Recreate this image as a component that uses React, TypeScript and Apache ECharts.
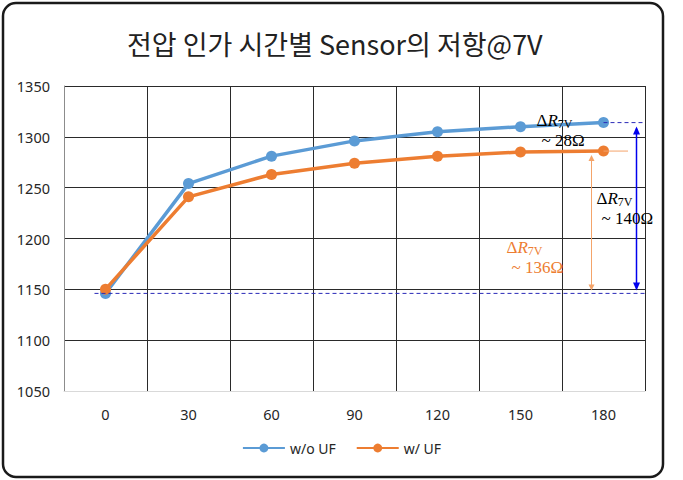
import React, { useEffect, useRef } from "react";
import * as echarts from "echarts";

const categories = ["0", "30", "60", "90", "120", "150", "180"];
const woUF = [1146, 1254, 1281, 1296, 1305, 1310, 1314];
const wUF = [1150, 1241, 1263, 1274, 1281, 1285, 1286];
const yTicks = { min: 1050, max: 1350, interval: 50 };
const titleText = "전압 인가 시간별 Sensor의 저항@7V";
const seriesNames = ["w/o UF", "w/ UF"];
const notes = ["~ 28Ω", "~ 140Ω", "~ 136Ω"];

export default function App() {
  const ref = useRef<HTMLDivElement>(null);
  useEffect(() => {
    if (!ref.current) return;
    const chart = echarts.init(ref.current, undefined, { renderer: "svg" });
    const labelFont = "'Noto Sans', 'Open Sans', sans-serif";
    chart.setOption({
      animation: false,
      backgroundColor: "#ffffff",
      title: {
        text: titleText,
        left: 122,
        top: 25,
        textStyle: {
          fontFamily: "'Noto Sans CJK KR', sans-serif",
          fontSize: 27,
          fontWeight: "normal",
          color: "#222",
        },
      },
      legend: {
        bottom: 20,
        left: "center",
        itemWidth: 42,
        itemHeight: 11,
        itemGap: 20,
        textStyle: { fontFamily: labelFont, fontSize: 14, color: "#262626" },
        data: seriesNames,
      },
      grid: { left: 64, right: 38, top: 86, bottom: 89 },
      xAxis: {
        type: "category",
        data: categories,
        boundaryGap: true,
        axisLine: { show: true, lineStyle: { color: "#d9d9d9", width: 1 } },
        axisTick: { show: false },
        axisLabel: { fontFamily: labelFont, fontSize: 14.5, color: "#262626", margin: 15 },
        splitLine: { show: true, interval: 0, lineStyle: { color: "#2a2a2a", width: 1 } },
      },
      yAxis: {
        type: "value",
        min: yTicks.min,
        max: yTicks.max,
        interval: yTicks.interval,
        axisLine: { show: true, lineStyle: { color: "#8c8c8c", width: 1 } },
        axisTick: { show: false },
        axisLabel: {
          fontFamily: labelFont,
          fontSize: 14.5,
          color: "#262626",
          margin: 14,
          formatter: (v: number) => String(v),
        },
        splitLine: { show: true, lineStyle: { color: "#2a2a2a", width: 1 } },
      },
      series: [
        {
          name: seriesNames[0],
          type: "line",
          data: woUF,
          symbol: "circle",
          symbolSize: 11,
          itemStyle: { color: "#5B9BD5" },
          lineStyle: { color: "#5B9BD5", width: 3.5 },
          z: 3,
        },
        {
          name: seriesNames[1],
          type: "line",
          data: wUF,
          symbol: "circle",
          symbolSize: 11,
          itemStyle: { color: "#ED7D31" },
          lineStyle: { color: "#ED7D31", width: 3.5 },
          z: 4,
        },
      ],
    });

    const px = (i: number, v: number) =>
      chart.convertToPixel({ xAxisIndex: 0, yAxisIndex: 0 }, [i, v]) as number[];
    const last = categories.length - 1;
    const yBase = px(0, woUF[0])[1];
    const xFirst = px(0, woUF[0])[0];
    const pBlueEnd = px(last, woUF[last]);
    const pOrangeEnd = px(last, wUF[last]);
    const gridRight = 683 - 38;
    const blueX = pBlueEnd[0] + 33;
    const orangeX = pBlueEnd[0] - 12;

    const serif = "'Liberation Serif', serif";
    const rich = (color: string) => ({
      d: { fontFamily: serif, fontSize: 17, fill: color },
      r: { fontFamily: serif, fontSize: 17, fontStyle: "italic", fill: color },
      s: { fontFamily: serif, fontSize: 12, fill: color, verticalAlign: "bottom", padding: [7, 0, 0, 0] },
    });
    const deltaText = (x: number, y: number, note: string, color: string) => [
      {
        type: "text",
        x,
        y,
        z: 20,
        style: { text: "{d|Δ}{r|R}{s|7V}", rich: rich(color), fill: color, align: "left", verticalAlign: "middle" },
      },
      {
        type: "text",
        x: x + 5,
        y: y + 20,
        z: 20,
        style: { text: note, font: `17px ${serif}`, fill: color, align: "left", verticalAlign: "middle" },
      },
    ];
    const tri = (x: number, y: number, dir: number, color: string, w: number, h: number) => ({
      type: "polygon",
      z: 20,
      shape: { points: [[x - w, y - dir * h], [x + w, y - dir * h], [x, y]] },
      style: { fill: color },
    });

    const blue = "#0000ee";
    const orangeA = "#F4A46A";
    chart.setOption({
      graphic: [
        {
          type: "rect",
          z: 30,
          shape: { x: 3, y: 3, width: 660, height: 474, r: 13 },
          style: { fill: "none", stroke: "#1a1a1a", lineWidth: 2.5 },
        },
        {
          type: "line",
          z: 20,
          shape: { x1: xFirst - 11, y1: yBase, x2: gridRight, y2: yBase },
          style: { stroke: "#2a2ab8", lineWidth: 1, lineDash: [4, 3] },
        },
        {
          type: "line",
          z: 20,
          shape: { x1: pBlueEnd[0], y1: pBlueEnd[1], x2: gridRight, y2: pBlueEnd[1] },
          style: { stroke: "#2a2ab8", lineWidth: 1, lineDash: [4, 3] },
        },
        {
          type: "line",
          z: 20,
          shape: { x1: pOrangeEnd[0], y1: pOrangeEnd[1], x2: gridRight - 17, y2: pOrangeEnd[1] },
          style: { stroke: orangeA, lineWidth: 1 },
        },
        {
          type: "line",
          z: 20,
          shape: { x1: blueX, y1: pBlueEnd[1] + 6, x2: blueX, y2: yBase - 5 },
          style: { stroke: blue, lineWidth: 1.5 },
        },
        tri(blueX, pBlueEnd[1] + 4, -1, blue, 3.5, 8),
        tri(blueX, yBase - 3, 1, blue, 3.5, 8),
        {
          type: "line",
          z: 20,
          shape: { x1: orangeX, y1: pOrangeEnd[1] + 6, x2: orangeX, y2: yBase - 5 },
          style: { stroke: orangeA, lineWidth: 1 },
        },
        tri(orangeX, pOrangeEnd[1] + 4, -1, orangeA, 3, 6),
        tri(orangeX, yBase - 3, 1, orangeA, 3, 6),
        ...deltaText(pBlueEnd[0] - 67, pBlueEnd[1] - 2, notes[0], "#000"),
        ...deltaText(pBlueEnd[0] - 7, yBase - 95, notes[1], "#000"),
        ...deltaText(pBlueEnd[0] - 97, yBase - 46, notes[2], "#ED7D31"),
      ],
    });
    return () => chart.dispose();
  }, []);
  return (
    <div
      ref={ref}
      style={{ position: "absolute", left: 0, top: 0, width: 683, height: 480 }}
    />
  );
}
